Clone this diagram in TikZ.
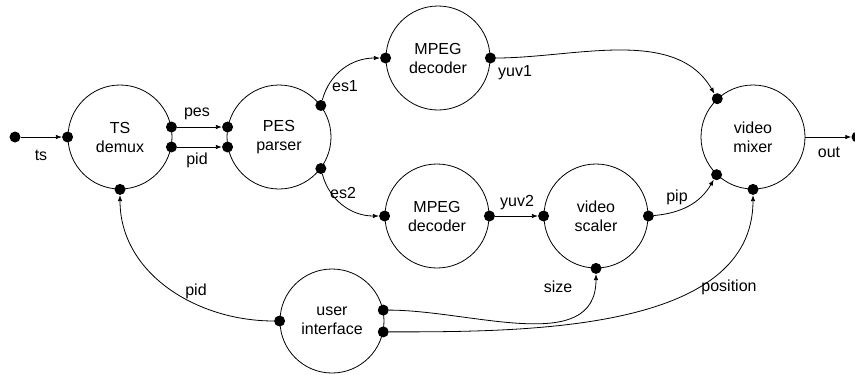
\documentclass[tikz,border=0pt]{standalone}
\usepackage{fontspec}
\setmainfont{Liberation Sans}
\usetikzlibrary{arrows.meta}
\begin{document}
\begin{tikzpicture}[x=1pt,y=-1pt,
  every node/.style={font=\fontsize{16}{19}\selectfont},
  proc/.style={draw, circle, minimum size=104pt, inner sep=0pt, align=center, line width=0.8pt},
  port/.style={circle, fill=black, minimum size=11pt, inner sep=0pt},
  lbl/.style={inner sep=0pt},
  conn/.style={line width=0.8pt, -{Latex[length=6pt,width=4.5pt]}}]
\useasboundingbox (0,0) rectangle (855,375);
% processes
\node[proc] (tsd) at (120,137) {TS\\demux};
\node[proc] (pes) at (279,137) {PES\\parser};
\node[proc] (dec1) at (438,58) {MPEG\\decoder};
\node[proc] (dec2) at (437,216) {MPEG\\decoder};
\node[proc] (scal) at (596,216) {video\\scaler};
\node[proc] (mix) at (753,137) {video\\mixer};
\node[proc] (ui) at (332,321) {user\\interface};
% ports
\node[port] (src) at (15,137) {};
\node[port] (tsin) at (tsd.180) {};
\node[port] (tspes) at (tsd.11) {};
\node[port] (tspid) at (tsd.-11) {};
\node[port] (tsbot) at (tsd.-90) {};
\node[port] (pesin1) at (pes.169) {};
\node[port] (pesin2) at (pes.191) {};
\node[port] (pes1) at (pes.37) {};
\node[port] (pes2) at (pes.-37) {};
\node[port] (d1in) at (dec1.180) {};
\node[port] (d1out) at (dec1.0) {};
\node[port] (d2in) at (dec2.180) {};
\node[port] (d2out) at (dec2.0) {};
\node[port] (scin) at (scal.180) {};
\node[port] (scout) at (scal.0) {};
\node[port] (scsize) at (scal.-90) {};
\node[port] (mx1) at (mix.133) {};
\node[port] (mx2) at (mix.-134) {};
\node[port] (mx3) at (mix.-90) {};
\node[port] (uiw) at (ui.180) {};
\node[port] (uie1) at (ui.12) {};
\node[port] (uie2) at (ui.-12) {};
\node[port] (sink) at (857,137) {};
% connectors
\draw[conn] (src) -- (tsin);
\draw[conn] (tspes) -- (pesin1);
\draw[conn] (tspid) -- (pesin2);
\draw[conn] (pes1) to[out=75, in=180] (d1in);
\draw[conn] (pes2) to[out=-75, in=180] (d2in);
\draw[conn] (d1out) to[out=0, in=120, looseness=0.9] (mx1);
\draw[conn] (d2out) -- (scin);
\draw[conn] (scout) to[out=5, in=-120] (mx2);
\draw[conn] (uie1) to[out=0, in=-90] (scsize);
\draw[conn] (uie2) to[out=0, in=-90, looseness=0.9] (mx3);
\draw[conn] (uiw) to[out=180, in=-90] (tsbot);
\draw[conn] (mix.east) -- (sink);
% labels
\node[lbl] (lts) at (41,155) {ts};
\node[lbl] (lpes) at (197,114) {pes};
\node[lbl] (lpid) at (197,160) {pid};
\node[lbl] (les1) at (345,86) {es1};
\node[lbl] (les2) at (343,193) {es2};
\node[lbl] (lyuv1) at (515,73) {yuv1};
\node[lbl] (lyuv2) at (517,203) {yuv2};
\node[lbl] (lpip) at (677,197) {pip};
\node[lbl] (lout) at (829,152) {out};
\node[lbl] (lsize) at (558,287) {size};
\node[lbl] (lpos) at (729,287) {position};
\node[lbl] (lpid2) at (196,291) {pid};
\end{tikzpicture}
\end{document}
